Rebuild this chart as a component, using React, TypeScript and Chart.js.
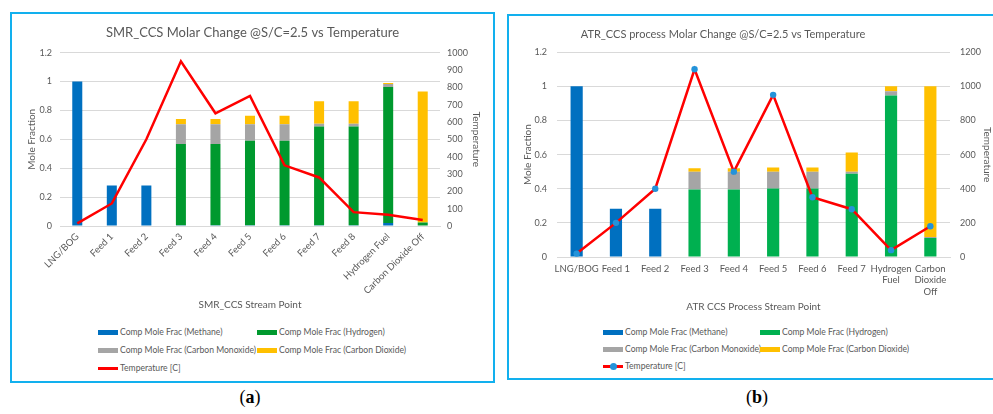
import React, { useEffect, useRef } from 'react';
import { Chart, registerables } from 'chart.js';

Chart.register(...registerables);

// ---------- SMR_CCS (a) ----------
const smrCategories = ['LNG/BOG', 'Feed 1', 'Feed 2', 'Feed 3', 'Feed 4', 'Feed 5', 'Feed 6', 'Feed 7', 'Feed 8', 'Hydrogen Fuel', 'Carbon Dioxide Off'];
const smrMethane = [1.0, 0.28, 0.28, 0.005, 0.005, 0.005, 0.005, 0.005, 0.005, 0.02, 0.0];
const smrHydrogen = [0, 0, 0, 0.562, 0.562, 0.585, 0.585, 0.684, 0.684, 0.942, 0.025];
const smrCO = [0, 0, 0, 0.138, 0.138, 0.115, 0.115, 0.018, 0.018, 0.021, 0.0];
const smrCO2 = [0, 0, 0, 0.035, 0.035, 0.058, 0.058, 0.157, 0.157, 0.006, 0.905];
const smrTemperature = [15, 130, 500, 950, 650, 750, 350, 280, 80, 65, 35];

// ---------- ATR_CCS (b) ----------
const atrCategories = ['LNG/BOG', 'Feed 1', 'Feed 2', 'Feed 3', 'Feed 4', 'Feed 5', 'Feed 6', 'Feed 7', ['Hydrogen', 'Fuel'], ['Carbon', 'Dioxide', 'Off']];
const atrMethane = [1.0, 0.283, 0.283, 0, 0, 0, 0, 0, 0, 0];
const atrHydrogen = [0, 0, 0, 0.395, 0.395, 0.402, 0.402, 0.488, 0.947, 0.111];
const atrCO = [0, 0, 0, 0.105, 0.105, 0.098, 0.098, 0.012, 0.024, 0.006];
const atrCO2 = [0, 0, 0, 0.02, 0.02, 0.025, 0.025, 0.113, 0.029, 0.883];
const atrTemperature = [20, 200, 400, 1100, 500, 950, 350, 280, 40, 180];

const seriesLabels = ['Comp Mole Frac (Methane)', 'Comp Mole Frac (Hydrogen)', 'Comp Mole Frac (Carbon Monoxide)', 'Comp Mole Frac (Carbon Dioxide)', 'Temperature [C]'];

const BLUE = '#0070C0';
const GREEN_A = '#00992E';
const GREEN_B = '#00B050';
const GRAY = '#A5A5A5';
const YELLOW = '#FFC000';
const RED = '#FF0000';
const MARKER = '#2393DA';
const TXT = '#595959';
const GRID = '#D9D9D9';
const FONT = 'Lato, "Open Sans", sans-serif';
const FRAME = '#12B0EE';

const titleShift = {
  id: 'titleShift',
  afterLayout(chart: any, _args: any, opts: any) {
    if (opts && typeof opts.center === 'number' && chart.titleBlock) {
      chart.titleBlock.left = opts.center - 300;
      chart.titleBlock.right = opts.center + 300;
    }
  },
};

function buildConfig(p: any) {
  const barDs = (label: string, data: number[], color: string) => ({
    type: 'bar',
    label,
    data,
    backgroundColor: color,
    borderWidth: 0,
    stack: 's',
    yAxisID: 'y',
    order: 2,
    barPercentage: p.barPct,
    categoryPercentage: 1,
  });
  return {
    type: 'bar',
    data: {
      labels: p.categories,
      datasets: [
        {
          type: 'line',
          label: seriesLabels[4],
          data: p.temperature,
          borderColor: RED,
          borderWidth: 2.5,
          pointRadius: p.markers ? 3.2 : 0,
          pointBackgroundColor: MARKER,
          pointBorderColor: MARKER,
          pointBorderWidth: 0,
          yAxisID: 'y1',
          order: 0,
          tension: 0,
        },
        barDs(seriesLabels[0], p.methane, BLUE),
        barDs(seriesLabels[1], p.hydrogen, p.green),
        barDs(seriesLabels[2], p.co, GRAY),
        barDs(seriesLabels[3], p.co2, YELLOW),
      ],
    },
    options: {
      responsive: false,
      animation: false,
      layout: { padding: 0 },
      plugins: {
        legend: { display: false },
        tooltip: { enabled: false },
        title: {
          display: true,
          text: p.title,
          color: TXT,
          font: { family: FONT, size: p.titleSize, weight: 'normal' },
          padding: p.titlePad,
        },
        titleShift: { center: p.titleCenter },
      },
      scales: {
        x: {
          stacked: true,
          grid: { display: false, drawTicks: false },
          border: { display: true, color: GRID },
          ticks: {
            color: TXT,
            font: { family: FONT, size: p.xTickSize },
            minRotation: p.rotation,
            maxRotation: p.rotation,
            autoSkip: false,
            padding: p.xTickPad,
          },
          title: {
            display: true,
            text: p.xTitle,
            color: TXT,
            font: { family: FONT, size: p.axisTitleSize },
            padding: { top: 0, bottom: p.xTitlePad },
          },
          afterFit: (s: any) => { s.height = p.xHeight; },
        },
        y: {
          stacked: true,
          min: 0,
          max: 1.2,
          grid: { color: GRID, drawTicks: false, lineWidth: 1 },
          border: { display: false },
          ticks: {
            stepSize: 0.2,
            color: TXT,
            font: { family: FONT, size: p.yTickSize },
            padding: p.yTickPad,
            callback: (v: any) => String(Math.round(Number(v) * 10) / 10),
          },
          title: {
            display: true,
            text: 'Mole Fraction',
            color: TXT,
            font: { family: FONT, size: p.axisTitleSize },
            padding: { top: p.yTitlePad, bottom: 0 },
          },
          afterFit: (s: any) => { s.width = p.yWidth; },
        },
        y1: {
          position: 'right',
          min: 0,
          max: p.tMax,
          grid: { display: false, drawTicks: false, drawOnChartArea: false },
          border: { display: false },
          ticks: {
            stepSize: p.tStep,
            color: TXT,
            font: { family: FONT, size: p.yTickSize },
            padding: p.y1TickPad,
            callback: (v: any) => String(Math.round(Number(v))),
          },
          title: {
            display: true,
            text: 'Temperature',
            color: TXT,
            font: { family: FONT, size: p.axisTitleSize },
            padding: { top: p.y1TitlePad, bottom: 0 },
          },
          afterFit: (s: any) => { s.width = p.y1Width; },
        },
      },
    },
    plugins: [titleShift],
  };
}

function ChartCanvas({ left, top, width, height, params }: any) {
  const ref = useRef<HTMLCanvasElement | null>(null);
  useEffect(() => {
    if (!ref.current) return;
    const chart = new Chart(ref.current, buildConfig(params) as any);
    return () => chart.destroy();
  }, []);
  return (
    <canvas
      ref={ref}
      width={width}
      height={height}
      style={{ position: 'absolute', left, top, width, height }}
    />
  );
}

function LegendItem({ x, y, color, kind, text }: any) {
  return (
    <div style={{ position: 'absolute', left: x, top: y - 7, height: 14, display: 'flex', alignItems: 'center', whiteSpace: 'nowrap' }}>
      <div style={{ position: 'relative', width: 20, height: 14, marginRight: 2 }}>
        {kind === 'bar' && (
          <div style={{ position: 'absolute', left: 0, top: 5, width: 20, height: 5, background: color }} />
        )}
        {kind !== 'bar' && (
          <div style={{ position: 'absolute', left: 0, top: 6, width: 20, height: 2.5, background: RED }} />
        )}
        {kind === 'marker' && (
          <div style={{ position: 'absolute', left: 6.5, top: 3.5, width: 7, height: 7, borderRadius: 4, background: MARKER }} />
        )}
      </div>
      <span style={{ font: `8.6px ${FONT}`, color: TXT }}>{text}</span>
    </div>
  );
}

function Legend({ x1, x2, rows, green, marker }: any) {
  return (
    <>
      <LegendItem x={x1} y={rows[0]} color={BLUE} kind="bar" text={seriesLabels[0]} />
      <LegendItem x={x2} y={rows[0]} color={green} kind="bar" text={seriesLabels[1]} />
      <LegendItem x={x1} y={rows[1]} color={GRAY} kind="bar" text={seriesLabels[2]} />
      <LegendItem x={x2} y={rows[1]} color={YELLOW} kind="bar" text={seriesLabels[3]} />
      <LegendItem x={x1} y={rows[2]} color={RED} kind={marker ? 'marker' : 'line'} text={seriesLabels[4]} />
    </>
  );
}

const smrParams = {
  categories: smrCategories,
  methane: smrMethane,
  hydrogen: smrHydrogen,
  co: smrCO,
  co2: smrCO2,
  temperature: smrTemperature,
  green: GREEN_A,
  markers: false,
  barPct: 0.29,
  title: 'SMR_CCS Molar Change @S/C=2.5 vs Temperature',
  titleSize: 13,
  titlePad: { top: 11.5, bottom: 11.5 },
  titleCenter: null,
  xTitle: 'SMR_CCS Stream Point',
  rotation: 45,
  xTickSize: 9.5,
  xTickPad: 5,
  xHeight: 92,
  xTitlePad: 7,
  axisTitleSize: 10,
  yTickSize: 9,
  yTickPad: 8,
  yTitlePad: 14,
  yWidth: 48,
  y1TickPad: 7,
  y1TitlePad: 11,
  y1Width: 53,
  tMax: 1000,
  tStep: 100,
};

const atrParams = {
  categories: atrCategories,
  methane: atrMethane,
  hydrogen: atrHydrogen,
  co: atrCO,
  co2: atrCO2,
  temperature: atrTemperature,
  green: GREEN_B,
  markers: true,
  barPct: 0.31,
  title: 'ATR_CCS process Molar Change @S/C=2.5 vs Temperature',
  titleSize: 11,
  titlePad: { top: 11.5, bottom: 11.5 },
  titleCenter: 214,
  xTitle: 'ATR CCS Process Stream Point',
  rotation: 0,
  xTickSize: 9.5,
  xTickPad: 6,
  xHeight: 63,
  xTitlePad: 7,
  axisTitleSize: 10,
  yTickSize: 9,
  yTickPad: 10,
  yTitlePad: 13,
  yWidth: 48,
  y1TickPad: 10,
  y1TitlePad: 5,
  y1Width: 48,
  tMax: 1200,
  tStep: 200,
};

export default function App() {
  return (
    <div style={{ position: 'absolute', left: 0, top: 0, width: 993, height: 414, overflow: 'hidden', background: '#fff' }}>
      <div style={{ position: 'absolute', left: 10, top: 12, width: 485, height: 371, border: `2px solid ${FRAME}`, boxSizing: 'border-box' }} />
      <div style={{ position: 'absolute', left: 507, top: 14, width: 500, height: 366, border: `2px solid ${FRAME}`, boxSizing: 'border-box' }} />
      <ChartCanvas left={12} top={14} width={481} height={304} params={smrParams} />
      <ChartCanvas left={509} top={16} width={489} height={304} params={atrParams} />
      <Legend x1={98} x2={257} rows={[332, 350, 368]} green={GREEN_A} marker={false} />
      <Legend x1={603} x2={760} rows={[332, 349, 366]} green={GREEN_B} marker={true} />
      <div style={{ position: 'absolute', left: 228, top: 387, width: 44, textAlign: 'center', font: '18px "Liberation Serif", "DejaVu Serif", serif', color: '#000' }}>
        (<b>a</b>)
      </div>
      <div style={{ position: 'absolute', left: 735, top: 387, width: 44, textAlign: 'center', font: '18px "Liberation Serif", "DejaVu Serif", serif', color: '#000' }}>
        (<b>b</b>)
      </div>
    </div>
  );
}
